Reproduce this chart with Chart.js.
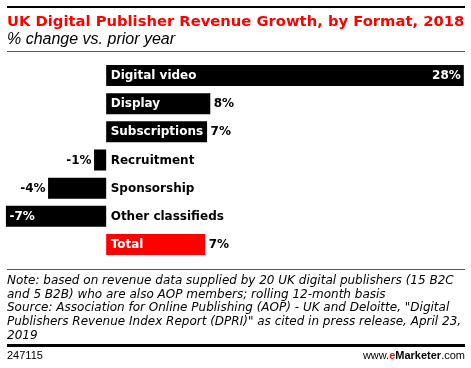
<!DOCTYPE html>
<html>
<head>
<meta charset="utf-8">
<script src="https://cdn.jsdelivr.net/npm/chart.js@4/dist/chart.umd.min.js"></script>
<style>
  html, body { margin: 0; padding: 0; background: #fff; }
  #wrap { position: relative; width: 471px; height: 368px; overflow: hidden; }
  #c { position: absolute; left: 0; top: 0; }
  .t { position: absolute; white-space: nowrap; }
  #title { left: 7px; top: 13.4px; font: bold 14.75px "DejaVu Sans", Verdana, sans-serif; color: #ff0000; line-height: 15px; }
  #sub { left: 7px; top: 30.7px; font: italic 16px "Liberation Sans", Arial, sans-serif; color: #000; line-height: 16px; }
  #note { left: 7px; top: 274.3px; font: italic 12px "DejaVu Sans", Verdana, sans-serif; color: #000; line-height: 13.6px; }
  #id { left: 7px; top: 349px; font: 11px "Liberation Sans", Arial, sans-serif; color: #000; line-height: 12px; }
  #brand { right: 6px; top: 349px; font: 11px "Liberation Sans", Arial, sans-serif; color: #000; line-height: 12px; }
  #brand b { font-weight: bold; }
  #brand .e { color: #ff0000; }
  .rule { position: absolute; left: 7px; width: 458px; }
</style>
</head>
<body>
<div id="wrap">
  <canvas id="c" width="471" height="368"></canvas>
  <div class="rule" style="top:6px;height:2px;background:#000"></div>
  <div class="t" id="title">UK Digital Publisher Revenue Growth, by Format, 2018</div>
  <div class="t" id="sub">% change vs. prior year</div>
  <div class="rule" style="top:51px;height:1px;background:#555"></div>
  <div class="rule" style="top:269px;height:1px;background:#555"></div>
  <div class="t" id="note">Note: based on revenue data supplied by 20 UK digital publishers (15 B2C<br>and 5 B2B) who are also AOP members; rolling 12-month basis<br>Source: Association for Online Publishing (AOP) - UK and Deloitte, "Digital<br>Publishers Revenue Index Report (DPRI)" as cited in press release, April 23,<br>2019</div>
  <div class="rule" style="top:344px;height:3px;background:#000"></div>
  <div class="t" id="id">247115</div>
  <div class="t" id="brand">www.<b class="e">e</b><b>Marketer</b>.com</div>
</div>
<script>
const categories = ["Digital video", "Display", "Subscriptions", "Recruitment", "Sponsorship", "Other classifieds", "Total"];
const growthValues = [28.0, 8.15, 7.9, -0.95, -4.55, -7.85, 7.75];
const valueLabels = ["28%", "8%", "7%", "-1%", "-4%", "-7%", "7%"];
const barColors = ["#000000", "#000000", "#000000", "#000000", "#000000", "#000000", "#ff0000"];

const labelFont = 'bold 12px "DejaVu Sans", Verdana, sans-serif';

const barLabels = {
  id: 'barLabels',
  afterDatasetsDraw(chart) {
    const ctx = chart.ctx;
    const meta = chart.getDatasetMeta(0);
    const data = chart.data.datasets[0].data;
    const maxV = Math.max(...data), minV = Math.min(...data);
    ctx.save();
    ctx.font = labelFont;
    ctx.textBaseline = 'middle';
    meta.data.forEach((bar, i) => {
      const v = data[i];
      const y = bar.y + 0.5;
      const base = bar.base;
      const end = bar.x;
      ctx.textAlign = 'left';
      ctx.fillStyle = v >= 0 ? '#ffffff' : '#000000';
      ctx.fillText(chart.data.labels[i], base + 4.5, y);
      const vl = valueLabels[i];
      const extreme = (v === maxV || v === minV);
      if (v >= 0) {
        if (extreme) { ctx.textAlign = 'right'; ctx.fillStyle = '#fff'; ctx.fillText(vl, end - 3, y); }
        else { ctx.textAlign = 'left'; ctx.fillStyle = '#000'; ctx.fillText(vl, end + 3.5, y); }
      } else {
        if (extreme) { ctx.textAlign = 'left'; ctx.fillStyle = '#fff'; ctx.fillText(vl, end + 3.5, y); }
        else { ctx.textAlign = 'right'; ctx.fillStyle = '#000'; ctx.fillText(vl, end - 2.5, y); }
      }
    });
    ctx.restore();
  }
};

new Chart(document.getElementById('c'), {
  type: 'bar',
  data: {
    labels: categories,
    datasets: [{
      data: growthValues,
      backgroundColor: barColors,
      borderWidth: 0,
      categoryPercentage: 1,
      barPercentage: 0.745
    }]
  },
  options: {
    indexAxis: 'y',
    responsive: false,
    animation: false,
    events: [],
    layout: { padding: { left: 4, right: 4, top: 61.4, bottom: 109.4 } },
    plugins: { legend: { display: false }, tooltip: { enabled: false }, title: { display: false } },
    scales: {
      x: { display: false, min: -8, max: 28.25 },
      y: { display: false, offset: true }
    }
  },
  plugins: [barLabels]
});
</script>
</body>
</html>
